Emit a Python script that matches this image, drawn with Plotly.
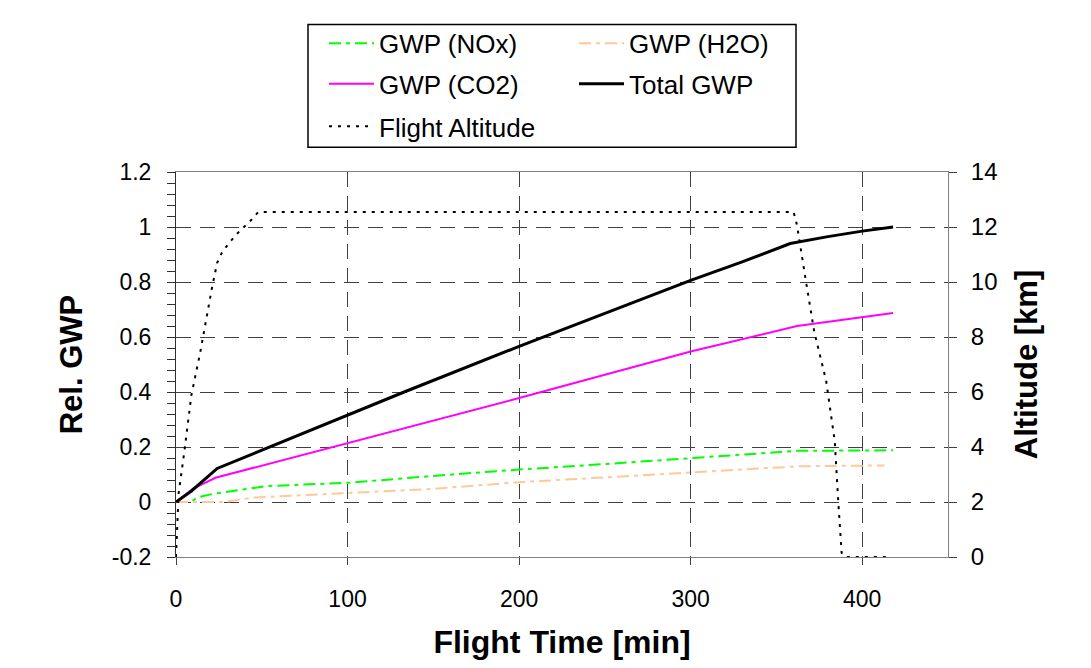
import plotly.graph_objects as go

# ---- data ----
total_time = [0, 9, 24, 53, 100, 133, 200, 250, 300, 330, 358, 380, 400, 418]
total_gwp = [0, 0.04, 0.122, 0.196, 0.318, 0.40, 0.566, 0.686, 0.806, 0.873, 0.94, 0.965, 0.985, 1.0]

co2_time = [0, 10, 23, 100, 200, 300, 362, 418]
co2_gwp = [0, 0.049, 0.088, 0.215, 0.378, 0.547, 0.64, 0.687]

nox_time = [0, 9, 12, 22, 53, 101, 150, 200, 250, 300, 340, 362, 418]
nox_gwp = [0, 0, 0.016, 0.03, 0.058, 0.07, 0.095, 0.118, 0.138, 0.16, 0.178, 0.186, 0.188]

h2o_time = [0, 28, 45, 74, 98, 127, 150, 200, 250, 300, 340, 364, 413]
h2o_gwp = [0, 0, 0.016, 0.025, 0.03, 0.04, 0.048, 0.072, 0.09, 0.106, 0.12, 0.13, 0.133]

alt_time = [0, 1.5, 5, 9, 14, 18, 21, 24, 27, 32, 37, 43, 48, 360, 362, 367, 372, 379, 384, 386, 388, 390, 414]
altitude_km = [0, 2.3, 3.9, 5.9, 7.4, 8.8, 9.8, 10.7, 11.1, 11.5, 11.85, 12.2, 12.55, 12.55,
               12.06, 10.1, 8.2, 6.4, 4.2, 2.05, 0.15, 0, 0]

x_ticks = [0, 100, 200, 300, 400]
gwp_tickvals = [-0.2, 0, 0.2, 0.4, 0.6, 0.8, 1.0, 1.2]
gwp_ticktext = ["-0.2", "0", "0.2", "0.4", "0.6", "0.8", "1", "1.2"]

FONT = "Liberation Sans, Arial, sans-serif"
DASHDOT = "12px,5px,4px,5px"

fig = go.Figure()

fig.add_trace(go.Scatter(x=nox_time, y=nox_gwp, mode="lines", name="GWP (NOx)",
                         line=dict(color="#00FF00", width=2, dash=DASHDOT),
                         legend="legend"))
fig.add_trace(go.Scatter(x=co2_time, y=co2_gwp, mode="lines", name="GWP (CO2)",
                         line=dict(color="#FF00FF", width=2),
                         legend="legend3"))
fig.add_trace(go.Scatter(x=alt_time, y=altitude_km, mode="lines", name="Flight Altitude",
                         line=dict(color="black", width=2, dash="3px,6px"),
                         yaxis="y2", legend="legend5"))
fig.add_trace(go.Scatter(x=h2o_time, y=h2o_gwp, mode="lines", name="GWP (H2O)",
                         line=dict(color="#FFC898", width=2, dash=DASHDOT),
                         legend="legend2"))
fig.add_trace(go.Scatter(x=total_time, y=total_gwp, mode="lines", name="Total GWP",
                         line=dict(color="black", width=3),
                         legend="legend4"))

# page has an 8px body margin; plot area on screen: x 176..948, y 168..557
OFF = 8
W, H = 1091 - OFF, 668 - OFF
L, T = 176 - OFF, 168 - OFF
R, B = W - (948 - OFF), H - (557 - OFF)
pw, ph = W - L - R, H - T - B

def px_x(p):
    return (p - OFF - L) / pw

def px_y(p):
    return (H - B - (p - OFF)) / ph

grid = dict(showgrid=True, gridcolor="#404040", gridwidth=1, griddash="15px,9px")

def leg(xp, yp):
    return dict(x=px_x(xp), y=px_y(yp), xanchor="left", yanchor="middle",
                bgcolor="rgba(0,0,0,0)", borderwidth=0,
                font=dict(size=26, family=FONT), itemwidth=45)

fig.update_layout(
    width=W, height=H,
    margin=dict(l=L, r=R, t=T, b=B),
    paper_bgcolor="white", plot_bgcolor="white",
    font=dict(family=FONT, color="black", size=24),
    xaxis=dict(range=[0, 450], tickvals=x_ticks, ticks="outside", ticklen=7,
               tickcolor="#404040", tickfont=dict(size=23), showline=True,
               linecolor="#808080", linewidth=1, mirror=True, zeroline=False,
               ticklabelstandoff=14,
               title=dict(text="<b>Flight Time [min]</b>", font=dict(size=32), standoff=20),
               **grid),
    yaxis=dict(range=[-0.2, 1.2], tickvals=gwp_tickvals, ticktext=gwp_ticktext,
               ticks="outside", ticklen=8,
               tickcolor="#303030", tickfont=dict(size=23), showline=True,
               linecolor="#303030", linewidth=1, zeroline=False,
               minor=dict(dtick=0.04, tick0=0, ticks="outside", ticklen=8, tickcolor="#303030", showgrid=False),
               ticklabelstandoff=11,
               title=dict(text="<b>Rel. GWP</b>", font=dict(size=31), standoff=19),
               **grid),
    yaxis3=dict(range=[-0.2, 1.2], dtick=0.2, tick0=0, overlaying="y", anchor="x",
                ticks="inside", ticklen=8, tickcolor="#303030", showticklabels=False,
                showgrid=False, zeroline=False, showline=False,
                minor=dict(dtick=0.04, tick0=0, ticks="inside", ticklen=8, tickcolor="#303030", showgrid=False)),
    yaxis2=dict(range=[0, 14], dtick=2, overlaying="y", side="right", anchor="x",
                ticks="outside", ticklen=8, tickcolor="#404040", tickfont=dict(size=24),
                showline=True, linecolor="#808080", linewidth=1, showgrid=False, zeroline=False,
                ticklabelstandoff=9,
                title=dict(text="<b>Altitude [km]</b>", font=dict(size=31), standoff=18)),
    yaxis4=dict(range=[0, 14], dtick=2, overlaying="y", side="right", anchor="x",
                ticks="inside", ticklen=8, tickcolor="#404040", showticklabels=False,
                showgrid=False, zeroline=False, showline=False),
    legend=leg(324, 38),
    legend2=leg(574, 38),
    legend3=leg(324, 79),
    legend4=leg(574, 79),
    legend5=leg(324, 122),
    shapes=[dict(type="rect", xref="paper", yref="paper",
                 x0=px_x(308), x1=px_x(796), y0=px_y(143), y1=px_y(19),
                 line=dict(color="black", width=1.5), fillcolor="rgba(0,0,0,0)")],
    showlegend=True,
)

fig.write_html("out.html")
